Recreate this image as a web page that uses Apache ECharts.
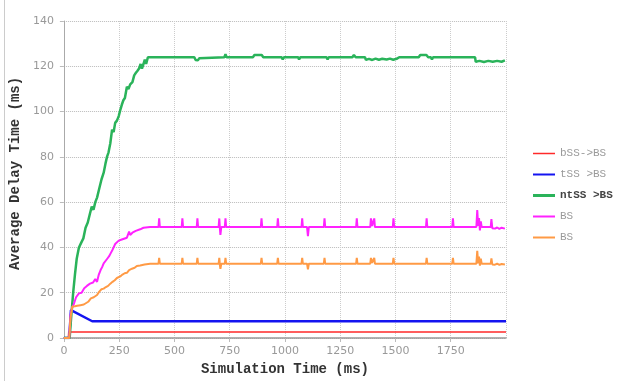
<!DOCTYPE html>
<html><head><meta charset="utf-8">
<script src="https://cdn.jsdelivr.net/npm/echarts@6/dist/echarts.min.js"></script>
<style>html,body{margin:0;padding:0;background:#fff}#c{width:619px;height:381px}</style>
</head><body><div id="c"></div>
<script>
var seriesNames = ['bSS->BS', 'tSS >BS', 'ntSS >BS', 'BS', 'BS '];
var xTicks = [0, 250, 500, 750, 1000, 1250, 1500, 1750];
var yTicks = [0, 20, 40, 60, 80, 100, 120, 140];

var redData = [[0,0],[20,0],[22,2.7],[2000,2.7]];
var blueData = [[0,0],[24,0],[32,12.3],[40,12.2],[128,7.4],[2000,7.4]];
var greenData = [
[0,0],[26,0],[32,8],[42,20],[50,28],[58,35],[68,40],[78,42],[88,44],[98,48.7],[108,51],[118,55],[126,58],[134,56.6],[142,60],[150,62],[160,66],[170,70],[180,73],[188,77],[195,80],[202,82],[210,86],[218,92],[225,91],[232,95],[240,96],[248,98],[256,101],[262,103],[269,105],[276,106],[285,111],[292,110],[300,112],[310,113],[318,116],[325,117],[333,118],[340,119],[347,121],[353,119],[360,121],[366,123],[372,121],[380,124],[390,124],
[430,124],[435,123.3],[440,124],[535,124],[540,123.3],[545,124],[590,124],[596,122.8],[606,122.6],[612,123.5],[620,124],[726,124],[731,125.3],[736,124],[855,124],[862,125],[895,125],[902,124],[985,124],[990,123],[996,124],[1060,124],[1064,123],[1070,124],[1188,124],[1193,123],[1198,124],[1305,124],[1312,125],[1320,124],[1362,124],[1366,122.8],[1380,123.3],[1395,122.8],[1410,123.4],[1425,122.9],[1440,123.3],[1460,123],[1475,123.4],[1490,122.9],[1505,123.3],[1517,124],[1605,124],[1612,125],[1640,125],[1648,124],[1660,124],[1665,123],[1670,124],[1755,124],[1760,123.3],[1765,124],[1860,124],[1863,122],[1880,122.4],[1900,121.9],[1920,122.4],[1940,122],[1960,122.4],[1980,122],[1995,122.6]
];
var magentaData = [
[0,0],[24,0],[30,10],[36,13],[45,15],[55,18],[68,19.7],[80,20],[92,22],[104,23],[118,24],[132,24.5],[142,26],[150,24.8],[158,28],[166,30],[173,31.3],[180,33],[188,32.5],[196,35],[204,36],[212,37.5],[220,39],[225,40],[232,41.5],[240,41],[248,43],[256,42.5],[262,43.5],[270,44],[285,44.3],[295,47],[300,45.5],[310,46.5],[325,47.3],[345,48],[360,48.7],[390,49],
[428,49],[431,52.8],[434,49],[533,49],[536,52.8],[539,49],[601,49],[604,52.8],[607,49],[700,49],[703,52.8],[706,48],[708,45.5],[712,49],[728,49],[731,52.8],[734,49],[891,49],[894,52.8],[897,49],[965,49],[968,52.8],[971,49],[1075,49],[1078,52.8],[1081,49],[1100,49],[1104,45],[1108,49],[1176,49],[1179,52.8],[1182,49],[1322,49],[1325,52.8],[1328,49],[1386,49],[1389,52.8],[1394,49.5],[1401,49.5],[1404,52.8],[1407,49],[1488,49],[1491,52.8],[1494,49],[1638,49],[1641,52.8],[1644,49],[1757,49],[1760,52.8],[1763,49],[1866,49],[1870,56.5],[1874,49.5],[1878,53],[1882,47.5],[1886,51.5],[1890,49],[1931,49],[1934,52.5],[1938,48.5],[1950,48.3],[1960,48.8],[1970,48.2],[1980,48.7],[1995,48.3]
];
var orangeData = [
[0,0],[24,0],[30,9],[38,13.9],[50,14],[60,14.2],[75,14.5],[90,14.8],[98,14.6],[110,16],[122,17.5],[135,18],[150,19],[160,20.5],[170,21.5],[180,21.8],[190,22.5],[200,23],[210,24],[220,24.8],[230,25.5],[240,26.5],[255,27.2],[265,28],[275,28.6],[285,28.8],[295,30],[300,29.5],[308,30.6],[320,31],[330,31.8],[345,32],[365,32.5],[390,32.8],
[428,32.8],[431,35.4],[434,32.8],[533,32.8],[536,35.4],[539,32.8],[601,32.8],[604,35.4],[607,32.8],[700,32.8],[703,35.4],[706,32],[708,30.5],[712,32.8],[728,32.8],[731,35.4],[734,32.8],[891,32.8],[894,35.4],[897,32.8],[965,32.8],[968,35.4],[971,32.8],[1075,32.8],[1078,35.4],[1081,32.8],[1100,32.8],[1104,30.3],[1108,32.8],[1176,32.8],[1179,35.4],[1182,32.8],[1322,32.8],[1325,35.4],[1328,32.8],[1386,32.8],[1389,35.4],[1394,33.2],[1401,33.2],[1404,35.4],[1407,32.8],[1488,32.8],[1491,35.4],[1494,32.8],[1638,32.8],[1641,35.4],[1644,32.8],[1757,32.8],[1760,35.4],[1763,32.8],[1866,32.8],[1870,38.5],[1874,33],[1878,36],[1882,32],[1886,35],[1890,32.8],[1931,32.8],[1934,35.2],[1938,32.5],[1950,32.4],[1960,32.8],[1970,32.3],[1980,32.7],[1995,32.5]
];

var colors = ['#ff2a2a', '#1414f0', '#2ab35a', '#ff22ff', '#ff9a45'];
var widths = [1.5, 2.5, 2.5, 2, 2];
var legendIcons = ['path://M0,0h44v3h-44z', 'path://M0,0h22v2h-22z', 'path://M0,0h22v3h-22z', 'path://M0,0h22v2h-22z', 'path://M0,0h22v2h-22z'];
var allData = [redData, blueData, greenData, magentaData, orangeData];

var chart = echarts.init(document.getElementById('c'), null, {renderer: 'canvas'});
var mono = '"Liberation Mono", "DejaVu Sans Mono", monospace';
var series = seriesNames.map(function (n, i) {
  return {
    name: n, type: 'line', data: allData[i], symbol: 'none', showSymbol: false,
    animation: false, lineStyle: {color: colors[i], width: widths[i]},
    itemStyle: {color: colors[i]}, z: 2 + i
  };
});
chart.setOption({
  animation: false,
  backgroundColor: '#fff',
  grid: {left: 63, right: 113, top: 21, bottom: 39},
  legend: {
    orient: 'vertical', left: 528, top: 143, itemWidth: 22, itemHeight: 14, itemGap: 10,
    textStyle: {fontFamily: mono, fontSize: 11, color: '#999'},
    data: seriesNames.map(function (n, i) {
      var d = {name: n, icon: legendIcons[i], itemStyle: {color: colors[i]}};
      if (i === 2) d.textStyle = {color: '#444', fontWeight: 'bold'};
      return d;
    })
  },
  xAxis: {
    type: 'value', min: 0, max: 2000, interval: 250,
    name: 'Simulation Time (ms)', nameLocation: 'middle', nameGap: 24,
    nameTextStyle: {fontFamily: mono, fontWeight: 'bold', fontSize: 14, color: '#333'},
    axisLine: {show: true, lineStyle: {color: '#999', width: 1.5}},
    axisTick: {show: true, length: 4, lineStyle: {color: '#bbb'}},
    axisLabel: {color: '#999', fontFamily: 'DejaVu Sans', fontSize: 11, margin: 8, showMaxLabel: false,
      formatter: function (v) { return xTicks.indexOf(v) >= 0 ? String(v) : ''; }},
    splitLine: {show: true, lineStyle: {color: '#ccc', type: 'dotted', width: 1}}
  },
  yAxis: {
    type: 'value', min: 0, max: 140, interval: 20,
    name: 'Average Delay Time (ms)', nameLocation: 'middle', nameGap: 39, nameRotate: 90,
    nameTextStyle: {fontFamily: mono, fontWeight: 'bold', fontSize: 14, color: '#333', padding: [0, 0, 0, 12]},
    axisLine: {show: true, lineStyle: {color: '#aaa', width: 1}},
    axisTick: {show: true, length: 4, lineStyle: {color: '#bbb'}},
    axisLabel: {color: '#999', fontFamily: 'DejaVu Sans', fontSize: 11, margin: 10,
      formatter: function (v) { return yTicks.indexOf(v) >= 0 ? String(v) : ''; }},
    splitLine: {show: true, lineStyle: {color: '#bbb', type: 'dotted', width: 1}}
  },
  graphic: [{type: 'line', shape: {x1: 4.5, y1: 0, x2: 4.5, y2: 381}, style: {stroke: '#ccc', lineWidth: 1}}],
  series: series
});
</script></body></html>
